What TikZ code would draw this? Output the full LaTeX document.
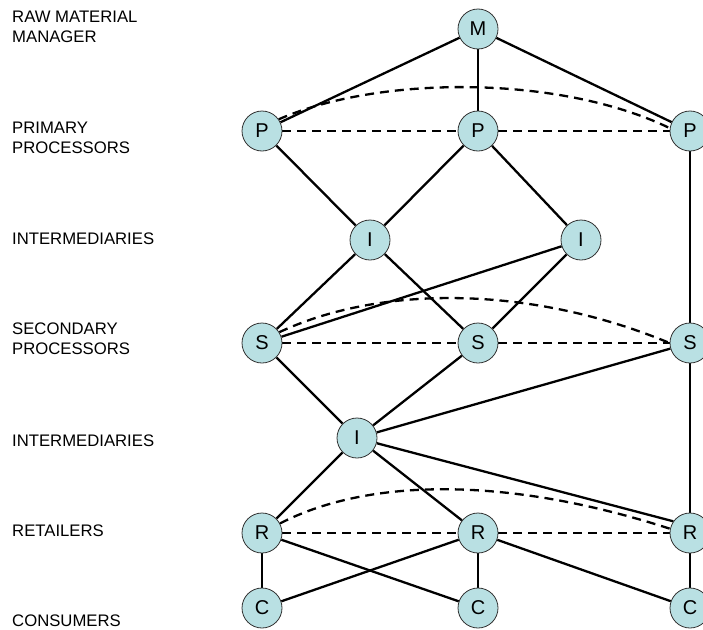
\documentclass[tikz,border=0pt]{standalone}
\usepackage{fontspec}
\setmainfont{Liberation Sans}
\usetikzlibrary{backgrounds}
\definecolor{nodefill}{RGB}{185,224,227}
\definecolor{nodeedge}{RGB}{50,50,50}
\tikzset{
  ent/.style={circle, minimum size=40pt, inner sep=0pt, fill=nodefill, draw=nodeedge, line width=0.8pt, font=\fontsize{20}{24}\selectfont},
  lvl/.style={anchor=base west, align=left, inner sep=0pt, font=\fontsize{16.7}{20}\selectfont},
  link/.style={line width=2.3pt, black},
  peer/.style={line width=2.3pt, black, dash pattern=on 9pt off 6pt}
}
\begin{document}
\begin{tikzpicture}[x=1pt,y=-1pt]
\useasboundingbox (0,0) rectangle (703,629);
% level labels (anchor at baseline of last line)
\node[lvl] (l1) at (12,42) {RAW MATERIAL\\MANAGER};
\node[lvl] (l2) at (12,153) {PRIMARY\\PROCESSORS};
\node[lvl] (l3) at (12,244) {INTERMEDIARIES};
\node[lvl] (l4) at (12,354) {SECONDARY\\PROCESSORS};
\node[lvl] (l5) at (12,446) {INTERMEDIARIES};
\node[lvl] (l6) at (12,536) {RETAILERS};
\node[lvl] (l7) at (12,626) {CONSUMERS};
% entities
\node[ent] (M) at (478,29) {M};
\node[ent] (P1) at (262,131) {P};
\node[ent] (P2) at (478,131) {P};
\node[ent] (P3) at (690,131) {P};
\node[ent] (I1) at (370,240) {I};
\node[ent] (I2) at (581,240) {I};
\node[ent] (S1) at (262,343) {S};
\node[ent] (S2) at (478,343) {S};
\node[ent] (S3) at (690,343) {S};
\node[ent] (I3) at (357,438) {I};
\node[ent] (R1) at (262,533) {R};
\node[ent] (R2) at (478,533) {R};
\node[ent] (R3) at (690,533) {R};
\node[ent] (C1) at (262,608) {C};
\node[ent] (C2) at (478,608) {C};
\node[ent] (C3) at (690,608) {C};
\begin{pgfonlayer}{background}
% solid links
\draw[link] (M) -- (P1);
\draw[link] (M) -- (P2);
\draw[link] (M) -- (P3);
\draw[link] (P1) -- (I1);
\draw[link] (P2) -- (I1);
\draw[link] (P2) -- (I2);
\draw[link] (P3) -- (S3);
\draw[link] (I1) -- (S1);
\draw[link] (I1) -- (S2);
\draw[link] (I2) -- (S1);
\draw[link] (I2) -- (S2);
\draw[link] (S1) -- (I3);
\draw[link] (S2) -- (I3);
\draw[link] (S3) -- (I3);
\draw[link] (S3) -- (R3);
\draw[link] (I3) -- (R1);
\draw[link] (I3) -- (R2);
\draw[link] (I3) -- (R3.145);
\draw[link] (R1) -- (C1);
\draw[link] (R1) -- (C2);
\draw[link] (R2) -- (C1);
\draw[link] (R2) -- (C2);
\draw[link] (R2) -- (C3);
\draw[link] (R3) -- (C3);
% dashed peer links
\draw[peer] (P1) -- (P2);
\draw[peer] (P2) -- (P3);
\draw[peer] (P1.35) .. controls (380,75) and (560,75) .. (P3.172);
\draw[peer] (S1) -- (S2);
\draw[peer] (S2) -- (S3);
\draw[peer] (S1.32) .. controls (380,285) and (530,285) .. (S3.180);
\draw[peer] (R1) -- (R2);
\draw[peer] (R2) -- (R3);
\draw[peer] (R1.28) .. controls (370,477) and (510,477) .. (R3.168);
\end{pgfonlayer}
\end{tikzpicture}
\end{document}
